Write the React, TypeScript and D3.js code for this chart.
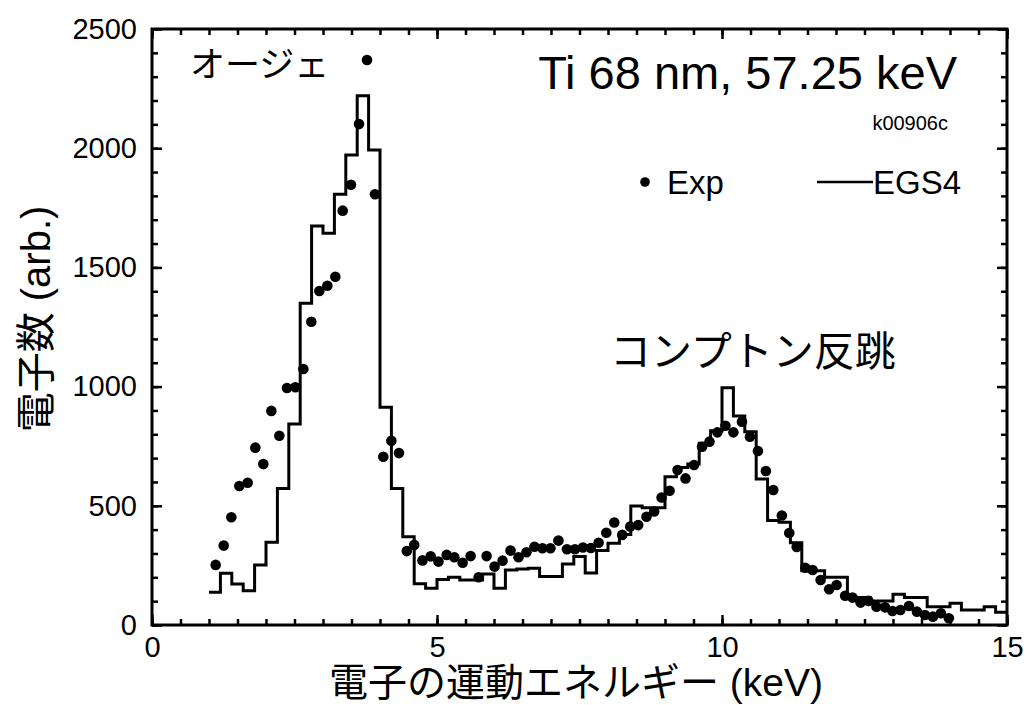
import { useEffect, useRef } from 'react';
import * as d3 from 'd3';

const width = 1028;
const height = 705;

// EGS4 histogram, 0.2 keV bins (lower edge, counts)
const binStarts = [
    1.0, 1.2, 1.4, 1.6, 1.8, 2.0, 2.2, 2.4, 2.6, 2.8,
    3.0, 3.2, 3.4, 3.6, 3.8, 4.0, 4.2, 4.4, 4.6, 4.8,
    5.0, 5.2, 5.4, 5.6, 5.8, 6.0, 6.2, 6.4, 6.6, 6.8,
    7.0, 7.2, 7.4, 7.6, 7.8, 8.0, 8.2, 8.4, 8.6, 8.8,
    9.0, 9.2, 9.4, 9.6, 9.8, 10.0, 10.2, 10.4, 10.6, 10.8,
    11.0, 11.2, 11.4, 11.6, 11.8, 12.0, 12.2, 12.4, 12.6, 12.8,
    13.0, 13.2, 13.4, 13.6, 13.8, 14.0, 14.2, 14.4, 14.6, 14.8,
];
const egs4Counts = [
    137, 217, 172, 144, 252, 347, 573, 843, 1350, 1674,
    1643, 1807, 1971, 2220, 1992, 913, 573, 370, 173, 154,
    191, 200, 189, 189, 214, 154, 231, 235, 238, 203,
    203, 256, 287, 218, 313, 343, 380, 499, 492, 492,
    622, 661, 675, 762, 815, 995, 877, 811, 612, 438,
    431, 345, 228, 228, 200, 200, 115, 115, 101, 101,
    129, 115, 115, 77, 77, 91, 63, 63, 77, 53,
];
const binEnd = 15.0;

// measured points
const expEnergy = [
    1.117, 1.258, 1.392, 1.532, 1.678, 1.813, 1.953, 2.094, 2.234, 2.368,
    2.515, 2.655, 2.795, 2.936, 3.076, 3.216, 3.345, 3.491, 3.632, 3.772,
    3.912, 4.058, 4.199, 4.333, 4.47, 4.6, 4.745, 4.889, 5.026, 5.17,
    5.304, 5.45, 5.59, 5.73, 5.87, 6.01, 6.15, 6.29, 6.43, 6.57,
    6.71, 6.85, 6.99, 7.13, 7.28, 7.42, 7.56, 7.7, 7.835, 7.97,
    8.11, 8.25, 8.39, 8.53, 8.675, 8.81, 8.94, 9.08, 9.22, 9.36,
    9.51, 9.65, 9.78, 9.92, 10.06, 10.2, 10.35, 10.49, 10.63, 10.77,
    10.9, 11.05, 11.18, 11.31, 11.46, 11.59, 11.73, 11.88, 12.01, 12.16,
    12.29, 12.43, 12.57, 12.71, 12.86, 12.99, 13.13, 13.28, 13.42, 13.56,
    13.7, 13.84, 13.98,
];
const expCounts = [
    252, 333, 452, 583, 597, 744, 675, 898, 794, 994,
    997, 1074, 1272, 1401, 1423, 1461, 1738, 1847, 2101, 2370,
    1807, 706, 773, 721, 310, 336, 271, 288, 266, 294,
    284, 261, 289, 200, 289, 245, 270, 312, 284, 305,
    328, 322, 322, 354, 318, 318, 325, 323, 345, 387,
    430, 378, 413, 419, 454, 476, 535, 563, 650, 615,
    671, 748, 769, 808, 836, 808, 853, 790, 730, 646,
    566, 459, 386, 327, 240, 231, 189, 150, 168, 123,
    115, 94, 101, 77, 74, 59, 63, 80, 56, 42,
    35, 49, 28,
];

const xTicks = [0, 5, 10, 15];
const yTicks = [0, 500, 1000, 1500, 2000, 2500];

const latin = "'Liberation Sans', Arial, Helvetica, sans-serif";
const mixed = "'Liberation Sans', Arial, 'Noto Sans CJK JP', sans-serif";

const App = () => {
    const svgRef = useRef<SVGSVGElement>(null);

    useEffect(() => {
        const svg = d3.select(svgRef.current);
        svg.selectAll('*').remove();

        const margin = { top: 29, right: 21, bottom: 80, left: 152 };
        const x = d3.scaleLinear().domain([0, 15]).range([margin.left, width - margin.right]);
        const y = d3.scaleLinear().domain([0, 2500]).range([height - margin.bottom, margin.top]);

        const styleAxis = (g) => {
            g.select('.domain').remove();
            g.selectAll('line').attr('stroke', '#000').attr('stroke-width', 2.5);
            g.selectAll('text').attr('font-family', latin).attr('font-size', 29).attr('fill', '#000');
        };

        const bottomY = height - margin.bottom;
        const rightX = width - margin.right;

        // minor ticks (inward, all four sides)
        svg.append('g').attr('transform', `translate(0,${bottomY})`)
            .call(d3.axisBottom(x).tickValues(x.ticks(30)).tickSize(-6).tickFormat(() => ''))
            .call(styleAxis);
        svg.append('g').attr('transform', `translate(0,${margin.top})`)
            .call(d3.axisTop(x).tickValues(x.ticks(30)).tickSize(-6).tickFormat(() => ''))
            .call(styleAxis);
        svg.append('g').attr('transform', `translate(${margin.left},0)`)
            .call(d3.axisLeft(y).tickValues(y.ticks(25)).tickSize(-6).tickFormat(() => ''))
            .call(styleAxis);
        svg.append('g').attr('transform', `translate(${rightX},0)`)
            .call(d3.axisRight(y).tickValues(y.ticks(25)).tickSize(-6).tickFormat(() => ''))
            .call(styleAxis);

        // major ticks
        svg.append('g').attr('transform', `translate(0,${bottomY})`)
            .call(d3.axisBottom(x).tickValues(xTicks).tickSize(-10).tickPadding(11).tickFormat(d3.format('d')))
            .call(styleAxis);
        svg.append('g').attr('transform', `translate(0,${margin.top})`)
            .call(d3.axisTop(x).tickValues(xTicks).tickSize(-10).tickFormat(() => ''))
            .call(styleAxis);
        svg.append('g').attr('transform', `translate(${margin.left},0)`)
            .call(d3.axisLeft(y).tickValues(yTicks).tickSize(-10).tickPadding(15).tickFormat(d3.format('d')))
            .call(styleAxis);
        svg.append('g').attr('transform', `translate(${rightX},0)`)
            .call(d3.axisRight(y).tickValues(yTicks).tickSize(-10).tickFormat(() => ''))
            .call(styleAxis);

        // frame
        svg.append('rect')
            .attr('x', margin.left)
            .attr('y', margin.top)
            .attr('width', rightX - margin.left)
            .attr('height', bottomY - margin.top)
            .attr('fill', 'none')
            .attr('stroke', '#000')
            .attr('stroke-width', 3);

        // EGS4 histogram
        const steps = binStarts.map((b, i) => [b, egs4Counts[i]]);
        steps.push([binEnd, egs4Counts[egs4Counts.length - 1]]);
        const line = d3.line()
            .x((d) => x(d[0]))
            .y((d) => y(d[1]))
            .curve(d3.curveStepAfter);
        svg.append('path')
            .datum(steps)
            .attr('d', line)
            .attr('fill', 'none')
            .attr('stroke', '#000')
            .attr('stroke-width', 3)
            .attr('stroke-linejoin', 'miter');

        // Exp points
        svg.append('g')
            .selectAll('circle')
            .data(expEnergy)
            .enter()
            .append('circle')
            .attr('cx', (d) => x(d))
            .attr('cy', (d, i) => y(expCounts[i]))
            .attr('r', 5.3)
            .attr('fill', '#000');

        // annotations
        svg.append('text')
            .attr('x', 957).attr('y', 89)
            .attr('text-anchor', 'end')
            .attr('font-family', latin).attr('font-size', 47)
            .text('Ti 68 nm, 57.25 keV');
        svg.append('text')
            .attr('x', 948).attr('y', 130)
            .attr('text-anchor', 'end')
            .attr('font-family', latin).attr('font-size', 20)
            .text('k00906c');
        svg.append('text')
            .attr('x', 190).attr('y', 77)
            .attr('font-family', mixed).attr('font-size', 35)
            .text('オージェ');
        svg.append('text')
            .attr('x', 610).attr('y', 366)
            .attr('font-family', mixed).attr('font-size', 41)
            .text('コンプトン反跳');

        // legend
        svg.append('circle').attr('cx', 645).attr('cy', 182).attr('r', 4.8).attr('fill', '#000');
        svg.append('text')
            .attr('x', 667).attr('y', 194)
            .attr('font-family', latin).attr('font-size', 33)
            .text('Exp');
        svg.append('line')
            .attr('x1', 817).attr('x2', 873).attr('y1', 182).attr('y2', 182)
            .attr('stroke', '#000').attr('stroke-width', 2.5);
        svg.append('text')
            .attr('x', 873).attr('y', 194)
            .attr('font-family', latin).attr('font-size', 33)
            .text('EGS4');

        // axis titles
        svg.append('text')
            .attr('x', 576).attr('y', 696)
            .attr('text-anchor', 'middle')
            .attr('font-family', mixed).attr('font-size', 39)
            .text('電子の運動エネルギー (keV)');
        svg.append('text')
            .attr('transform', 'rotate(-90)')
            .attr('x', -319).attr('y', 50)
            .attr('text-anchor', 'middle')
            .attr('font-family', mixed).attr('font-size', 40)
            .text('電子数 (arb.)');
    }, []);

    return (
        <div style={{ position: 'absolute', left: 0, top: 0 }}>
            <svg ref={svgRef} width={width} height={height} style={{ display: 'block', background: '#fff' }}></svg>
        </div>
    );
};

export default App;
